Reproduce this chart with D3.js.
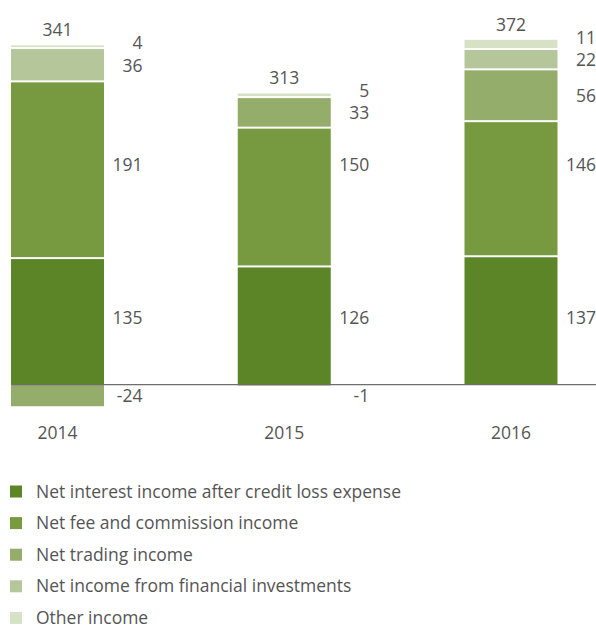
<!DOCTYPE html>
<meta charset="utf-8">
<script src="https://cdnjs.cloudflare.com/ajax/libs/d3/7.8.5/d3.min.js"></script>
<style>
  body { margin: 0; background: #fff; }
  text { font-family: "Open Sans", "Noto Sans", sans-serif; fill: #555; font-size: 17.5px; }
</style>
<div id="chart"></div>
<script>
  // data
  const years = ['2014', '2015', '2016']
  const seriesNames = [
    'Net interest income after credit loss expense',
    'Net fee and commission income',
    'Net trading income',
    'Net income from financial investments',
    'Other income'
  ]
  const interest = [135, 126, 137]
  const fees = [191, 150, 146]
  const trading = [-24, 33, 56]
  const investments = [36, -1, 22]
  const other = [4, 5, 11]
  const totals = [341, 313, 372]
  const colors = ['#5b8526', '#77993f', '#94ad6a', '#b5c79a', '#d6e1c5']

  const series = [interest, fees, trading, investments, other]

  const width = 596
  const height = 628

  const svg = d3.select('#chart').append('svg')
    .attr('width', width)
    .attr('height', height)

  const x = d3.scalePoint().domain(years).range([57.5, 511])
  const barW = 93
  const y = d3.scaleLinear().domain([-50, 400]).range([430.3, 13.9])

  // stack every year: positives up from zero, negatives down
  const stacks = years.map(function (yr, i) {
    let pos = 0, neg = 0
    return series.map(function (s, k) {
      const v = s[i]
      let y0, y1
      if (v >= 0) { y0 = pos; y1 = pos + v; pos = y1 } else { y0 = neg + v; y1 = neg; neg = y0 }
      return { yr: yr, k: k, v: v, y0: y0, y1: y1, top: pos }
    })
  })

  // first two layers and the negative row get one shared label line
  const rowMid = [0, 1].map(k => d3.max(stacks, st => (st[k].y0 + st[k].y1) / 2) + (k === 0 ? 3 : 6))
  const negMid = d3.min(stacks, st => d3.min(st.filter(d => d.v < 0), d => (d.y0 + d.y1) / 2))

  stacks.forEach(function (st, i) {
    const yr = years[i]
    st.forEach(function (d) {
      const top = y(d.y1), bot = y(d.y0)
      const neg = d.v < 0
      svg.append('rect')
        .attr('x', x(yr) - barW / 2)
        .attr('y', neg ? top + 1 : top)
        .attr('width', barW)
        .attr('height', Math.max(0.8, bot - top - (neg ? 1 : (d.k > 0 ? 2 : 0))))
        .attr('fill', colors[d.k])
    })

    // label positions
    const labels = st.map(function (d) {
      let c
      if (d.v < 0) c = y(negMid) + 1
      else if (d.k < 2) c = y(rowMid[d.k])
      else c = y((d.y0 + d.y1) / 2)
      return { v: d.v, c: c, neg: d.v < 0, k: d.k }
    })
    const upper = labels.filter(d => !d.neg && d.k >= 2)
    for (let j = 1; j < upper.length; j++) {
      if (upper[j - 1].c - upper[j].c < 22.5) upper[j].c = upper[j - 1].c - 22.5
    }
    labels.forEach(function (d) {
      svg.append('text')
        .attr('x', x(yr) + barW / 2 + 38.5)
        .attr('y', d.c + 6)
        .attr('text-anchor', 'end')
        .text(d.v)
    })

    // total above bar
    svg.append('text')
      .attr('x', x(yr))
      .attr('y', y(st[st.length - 1].top) - 9)
      .attr('text-anchor', 'middle')
      .text(totals[i])

    // year label
    svg.append('text')
      .attr('x', x(yr))
      .attr('y', 439)
      .attr('text-anchor', 'middle')
      .text(yr)
  })

  // zero line
  svg.append('line')
    .attr('x1', 11).attr('x2', width)
    .attr('y1', y(0) + 0.5).attr('y2', y(0) + 0.5)
    .attr('stroke', '#6e6e6e')
    .attr('stroke-width', 1.2)

  // legend
  const legend = svg.selectAll('.legend')
    .data(seriesNames)
    .enter().append('g')
    .attr('transform', function (d, i) { return 'translate(0,' + (491.5 + i * 31.6) + ')' })
  legend.append('rect')
    .attr('x', 10).attr('y', -6)
    .attr('width', 12).attr('height', 12)
    .attr('fill', function (d, i) { return colors[i] })
  legend.append('text')
    .attr('x', 36).attr('y', 6)
    .text(function (d) { return d })
</script>
